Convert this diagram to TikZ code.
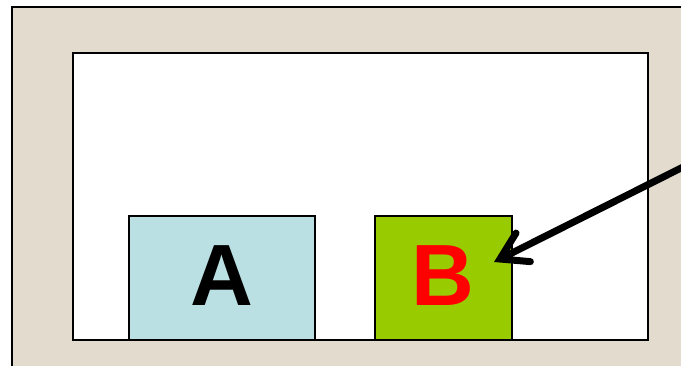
\documentclass[tikz,border=0pt]{standalone}
\usepackage{fontspec}
\setmainfont{Liberation Sans}
\usetikzlibrary{arrows.meta}
\definecolor{stone}{RGB}{226,219,206}
\definecolor{boxA}{RGB}{186,224,227}
\definecolor{boxB}{RGB}{153,204,0}
\tikzset{
  panel/.style={draw=black, line width=1.6pt, inner sep=0pt, anchor=north west},
  letter/.style={font=\fontsize{87}{87}\selectfont\bfseries},
  pointer/.style={line width=7pt, line cap=round, -{Straight Barb[length=26pt,width=32pt,line cap=round]}}
}
\begin{document}
\begin{tikzpicture}[x=1pt,y=-1pt]
\useasboundingbox (0,0) rectangle (681,365);
\begin{scope}
\clip (0,0) rectangle (681,365);
\fill[white] (0,0) rectangle (681,365);
\fill[stone] (12,7) rectangle (700,380);
\draw[line width=2pt] (12,380) -- (12,7) -- (700,7);
\end{scope}
\node[panel, fill=white, minimum width=575pt, minimum height=287pt] (stage) at (72,52) {};
\node[panel, fill=boxA, minimum width=186pt, minimum height=124pt] (a) at (128,215) {};
\node[letter, text=black] (la) at ([yshift=2pt]a.center) {A};
\node[panel, fill=boxB, minimum width=137pt, minimum height=124pt] (b) at (374,215) {};
\node[letter, text=red] (lb) at ([yshift=2pt]b.center) {B};
\coordinate (tail) at (700,158.5);
\coordinate (tip) at (494,262);
\begin{scope}
\clip (0,0) rectangle (681,365);
\draw[pointer] (tail) -- (tip);
\end{scope}
\end{tikzpicture}
\end{document}
